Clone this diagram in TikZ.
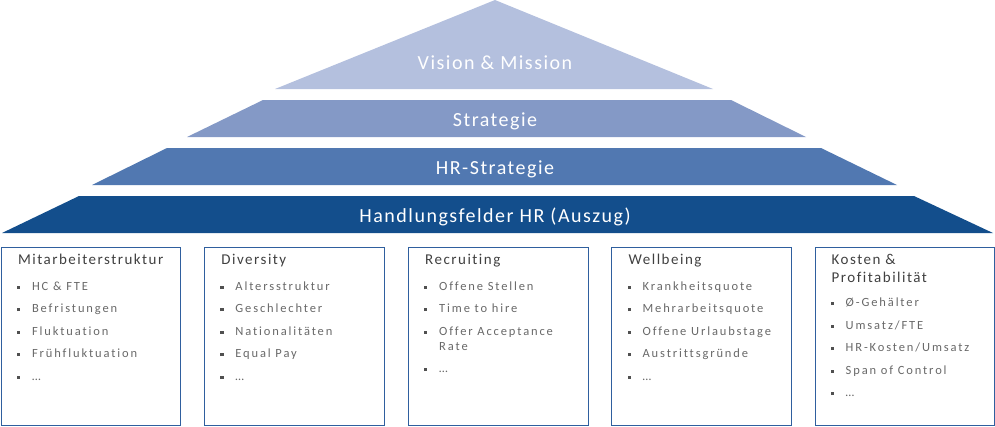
\documentclass[tikz,border=0pt]{standalone}
\usepackage{fontspec}
\setmainfont{Carlito}
\newfontfamily\pyrfont[LetterSpace=7.5,Ligatures={NoCommon}]{Carlito}
\newfontfamily\headfont[LetterSpace=10,Ligatures={NoCommon}]{Carlito}
\newfontfamily\itemfont[LetterSpace=15,Ligatures={NoCommon}]{Carlito}
\usetikzlibrary{calc}
\definecolor{lvA}{HTML}{B4C0DE}
\definecolor{lvB}{HTML}{8499C6}
\definecolor{lvC}{HTML}{5178B1}
\definecolor{lvD}{HTML}{134E8C}
\definecolor{boxc}{HTML}{2F5F9E}
\definecolor{headc}{HTML}{404040}
\definecolor{itemc}{HTML}{686868}
\definecolor{bulc}{HTML}{505050}
\newcommand{\sqb}{\llap{\textcolor{bulc}{\rule[1.5pt]{3.2pt}{3.2pt}}\hspace{11.8pt}}}
\tikzset{
  pyrtext/.style={font=\pyrfont\fontsize{20}{24}\selectfont, text=white, inner sep=0pt, anchor=base},
  fieldbox/.style={draw=boxc, line width=1pt, minimum width=179.5pt, minimum height=178pt, inner sep=0pt},
  headtext/.style={font=\headfont\fontsize{15}{18}\selectfont, text=headc, inner sep=0pt, anchor=base west},
  itemtext/.style={font=\itemfont\fontsize{12.5}{15}\selectfont, text=itemc, inner sep=0pt, anchor=base west}
}
\begin{document}
\begin{tikzpicture}[x=1pt,y=-1pt]
\useasboundingbox (0,0) rectangle (995,426);
% pyramid
\fill[lvA] (495,0) -- (713,89) -- (275,89) -- cycle;
\fill[lvB] (263,100) -- (731,100) -- (806,137) -- (187,137) -- cycle;
\fill[lvC] (167,148) -- (821,148) -- (897,185) -- (92,185) -- cycle;
\fill[lvD] (79,196) -- (914,196) -- (993,233) -- (2,233) -- cycle;
\node[pyrtext] (vm) at (495,69.3) {Vision \& Mission};
\node[pyrtext] (st) at (495,126.7) {Strategie};
\node[pyrtext] (hrs) at (495,174.3) {HR-Strategie};
\node[pyrtext] (hf) at (495,222.3) {Handlungsfelder HR (Auszug)};
% boxes
\node[fieldbox] (b1) at (91.05,336) {};
\node[fieldbox] (b2) at (294.45,336) {};
\node[fieldbox] (b3) at (498.25,336) {};
\node[fieldbox] (b4) at (701.65,336) {};
\node[fieldbox] (b5) at (904.75,336) {};
% box 1
\node[headtext] (h1) at ($(b1.north west)+(17,18.3)$) {Mitarbeiterstruktur};
\node[itemtext] (i11) at ($(b1.north west)+(31,43.7)$) {\sqb HC \& FTE};
\node[itemtext] (i12) at ($(b1.north west)+(31,66.2)$) {\sqb Befristungen};
\node[itemtext] (i13) at ($(b1.north west)+(31,88.7)$) {\sqb Fluktuation};
\node[itemtext] (i14) at ($(b1.north west)+(31,111.2)$) {\sqb Frühfluktuation};
\node[itemtext] (i15) at ($(b1.north west)+(31,133.7)$) {\sqb …};
% box 2
\node[headtext] (h2) at ($(b2.north west)+(17,18.3)$) {Diversity};
\node[itemtext] (i21) at ($(b2.north west)+(31,43.7)$) {\sqb Altersstruktur};
\node[itemtext] (i22) at ($(b2.north west)+(31,66.2)$) {\sqb Geschlechter};
\node[itemtext] (i23) at ($(b2.north west)+(31,88.7)$) {\sqb Nationalitäten};
\node[itemtext] (i24) at ($(b2.north west)+(31,111.2)$) {\sqb Equal Pay};
\node[itemtext] (i25) at ($(b2.north west)+(31,133.7)$) {\sqb …};
% box 3
\node[headtext] (h3) at ($(b3.north west)+(17,18.3)$) {Recruiting};
\node[itemtext] (i31) at ($(b3.north west)+(31,43.7)$) {\sqb Offene Stellen};
\node[itemtext] (i32) at ($(b3.north west)+(31,66.2)$) {\sqb Time to hire};
\node[itemtext] (i33) at ($(b3.north west)+(31,88.7)$) {\sqb Offer Acceptance};
\node[itemtext] (i33b) at ($(b3.north west)+(31,103.7)$) {Rate};
\node[itemtext] (i34) at ($(b3.north west)+(31,126.2)$) {\sqb …};
% box 4
\node[headtext] (h4) at ($(b4.north west)+(17,18.3)$) {Wellbeing};
\node[itemtext] (i41) at ($(b4.north west)+(31,43.7)$) {\sqb Krankheitsquote};
\node[itemtext] (i42) at ($(b4.north west)+(31,66.2)$) {\sqb Mehrarbeitsquote};
\node[itemtext] (i43) at ($(b4.north west)+(31,88.7)$) {\sqb Offene Urlaubstage};
\node[itemtext] (i44) at ($(b4.north west)+(31,111.2)$) {\sqb Austrittsgründe};
\node[itemtext] (i45) at ($(b4.north west)+(31,133.7)$) {\sqb …};
% box 5
\node[headtext] (h5) at ($(b5.north west)+(17,18.3)$) {Kosten \&};
\node[headtext] (h5b) at ($(b5.north west)+(17,35.8)$) {Profitabilität};
\node[itemtext] (i51) at ($(b5.north west)+(31,60.2)$) {\sqb Ø-Gehälter};
\node[itemtext] (i52) at ($(b5.north west)+(31,82.7)$) {\sqb Umsatz/FTE};
\node[itemtext] (i53) at ($(b5.north west)+(31,105.2)$) {\sqb HR-Kosten/Umsatz};
\node[itemtext] (i54) at ($(b5.north west)+(31,127.7)$) {\sqb Span of Control};
\node[itemtext] (i55) at ($(b5.north west)+(31,150.2)$) {\sqb …};
\end{tikzpicture}
\end{document}
